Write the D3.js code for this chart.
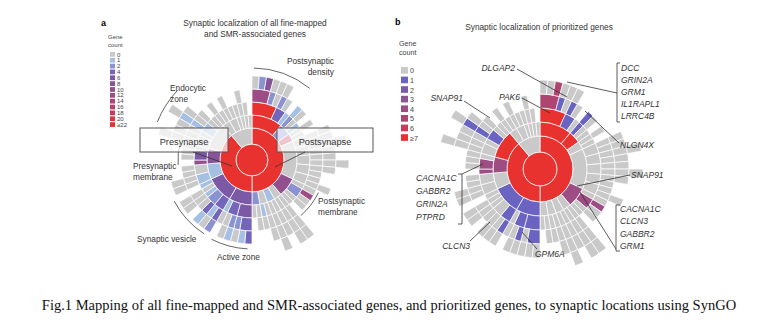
<!DOCTYPE html>
<html>
<head>
<meta charset="utf-8">
<script src="https://cdn.jsdelivr.net/npm/d3@7"></script>
<style>
  body { margin: 0; background: #fff; }
  svg { display: block; font-family: "Liberation Sans", Arial, sans-serif; }
</style>
</head>
<body>
<svg id="fig" width="771" height="332"></svg>
<script>
// every node: [gene count in panel a, gene count in panel b, ...child terms]
// a node without children is a leaf term (one slot of angle)
var postDensity = [22, 7,
  [22, 7, [12, 5, [0, 0], [2, 0], [8, 5]], [2, 1, [0, 0]], [0, 0, [0, 0]]],
  [4, 1, [2, 1, [0, 0]], [0, 0]],
  [1, 0]
];
var postSpec = [2, 7, [2, 1, [1, 1]], [0, 0, [0, 0]], [1, 0]];
var postPink = [18, 0, [0, 0, [0, 0]], [0, 0]];
var postRight = [0, 0,
  [0, 0, [0, 0, [0, 0]], [0, 0, [0, 0]]],
  [0, 0, [0, 0, [0, 0, [0, 0]]], [0, 0, [0, 0]]],
  [0, 0, [0, 0, [0, 0]], [0, 0, [0, 0, [0, 0]]]],
  [0, 0, [0, 0, [0, 0]], [0, 0]],
  [0, 0, [0, 0], [0, 0, [0, 0]]]
];
var postMembrane = [10, 4,
  [0, 0, [0, 0]],
  [2, 4, [12, 4], [0, 0]],
  [0, 0, [0, 0]],
  [0, 0]
];
var postLower1 = [0, 0, [0, 0, [0, 0, [0, 0, [0, 0]]]], [0, 0, [0, 0, [0, 0, [0, 0]]]]];
var postLower2 = [1, 0, [0, 0, [0, 0, [0, 0]]], [0, 0, [0, 0, [0, 0, [0, 0]]]]];
var postLower3 = [0, 0, [0, 0, [0, 0, [0, 0]]], [1, 0, [0, 0]]];
var postLower4 = [2, 0, [0, 0, [0, 0]], [0, 0]];

var preActive = [6, 1,
  [6, 1, [4, 1, [4, 0], [1, 0]], [2, 0, [0, 0]]],
  [4, 1, [2, 1, [1, 0]], [0, 0, [0, 0]]],
  [1, 0, [0, 0]]
];
var preVesicle = [6, 1,
  [4, 1, [4, 1, [2, 0]], [1, 0, [0, 0]]],
  [2, 0, [4, 0, [1, 0]], [0, 0]],
  [1, 0, [0, 0, [0, 0]]],
  [0, 0, [0, 0, [0, 0]]],
  [1, 0]
];
var preOther = [1, 0,
  [1, 0, [0, 0, [0, 0]], [0, 0, [0, 0]]],
  [0, 0, [0, 0], [0, 0]]
];
var preMembrane = [8, 4,
  [10, 4],
  [6, 4, [0, 0], [0, 0]],
  [0, 0, [0, 0]]
];
var preEndocytic = [0, 7,
  [0, 0, [0, 0, [0, 0, [0, 0]]], [0, 0, [0, 0]]],
  [0, 0, [0, 0, [0, 0]]],
  [1, 1, [1, 1, [1, 1, [0, 0]]], [0, 0, [0, 0]]],
  [0, 0, [0, 0]],
  [0, 0]
];
var otherTerms = [0, 0,
  [0, 0, [0, 0, [0, 0]], [0, 0]],
  [0, 0, [0, 0, [0, 0]], [0, 0]],
  [0, 0, [0, 0]],
  [0, 0, [0, 0, [0, 0]]],
  [0, 0, [0, 0]],
  [0, 0]
];

var postsynapse = [22, 7, postDensity, postSpec, postPink, postRight, postMembrane,
                   postLower1, postLower2, postLower3, postLower4];
var presynapse = [22, 7, preActive, preVesicle, preOther, preMembrane, preEndocytic];
var synapse = [22, 7, postsynapse, presynapse, otherTerms];

// colour legends
var stepsA = [1, 2, 4, 6, 8, 10, 12, 14, 16, 18, 20, 22];
var labelsA = ["0", "1", "2", "4", "6", "8", "10", "12", "14", "16", "18", "20", "\u226522"];
var coloursA = ["#c9c9c9", "#a5c0e2", "#8a92d0", "#7265ba", "#7b59a6", "#87549a", "#93508f",
                "#9d4c84", "#a8487a", "#b5436c", "#c43e5c", "#d5384a", "#e8322f"];
var stepsB = [1, 2, 3, 4, 5, 6, 7];
var labelsB = ["0", "1", "2", "3", "4", "5", "6", "\u22657"];
var coloursB = ["#c9c9c9", "#6a63c2", "#7b5aab", "#8c5396", "#9d4c84", "#ae4571", "#c63d57", "#e8322f"];

var captionText = "Fig.1 Mapping of all fine-mapped and SMR-associated genes, and prioritized genes, to synaptic locations using SynGO";

var svg = d3.select("#fig");

function ringEdges(core, ring1, step) {
  var e = [0, core, ring1];
  for (var i = 1; i <= 6; i++) e.push(ring1 + step * i);
  return e;
}

function drawSunburst(idx, cx, cy, edges, colour) {
  var root = d3.hierarchy(synapse, function(d) { return d.length > 2 ? d.slice(2) : null; })
               .sum(function(d) { return d.length > 2 ? 0 : 1; });
  d3.partition().size([2 * Math.PI, 1])(root);

  var arc = d3.arc()
    .startAngle(function(d) { return d.x0; })
    .endAngle(function(d) { return d.x1; })
    .innerRadius(function(d) { return edges[d.depth]; })
    .outerRadius(function(d) { return edges[d.depth + 1]; });

  var g = svg.append("g").attr("transform", "translate(" + cx + "," + cy + ")");
  g.selectAll("path")
    .data(root.descendants())
    .join("path")
      .attr("d", arc)
      .attr("fill", function(d) { return colour(d.data[idx]); })
      .attr("stroke", "#fff")
      .attr("stroke-width", 0.7);

  return { root: root, g: g, edges: edges };
}

function branchArc(sb, branch, gap, pad) {
  var node = sb.root.descendants().find(function(d) { return d.data === branch; });
  var deepest = d3.max(node.descendants(), function(d) { return d.depth; });
  var r = sb.edges[deepest + 1] + gap;
  var p = d3.path();
  p.arc(0, 0, r, node.x0 + pad - Math.PI / 2, node.x1 - pad - Math.PI / 2);
  sb.g.append("path")
    .attr("d", p.toString())
    .attr("fill", "none")
    .attr("stroke", "#555")
    .attr("stroke-width", 0.9);
}

function legend(x, y, labels, colours, size, gapY, fontSize) {
  var g = svg.append("g").attr("transform", "translate(" + x + "," + y + ")");
  g.append("text").attr("x", -2).attr("y", -gapY * 2.2).attr("font-size", fontSize).attr("fill", "#444").text("Gene");
  g.append("text").attr("x", -2).attr("y", -gapY * 2.2 + fontSize * 1.25).attr("font-size", fontSize).attr("fill", "#444").text("count");
  labels.forEach(function(l, i) {
    g.append("rect").attr("x", 0).attr("y", i * gapY).attr("width", size).attr("height", size * 0.95)
      .attr("fill", colours[i]);
    g.append("text").attr("x", size + 2).attr("y", i * gapY + size * 0.9)
      .attr("font-size", fontSize).attr("fill", "#444").text(l);
  });
}

function label(lines, x, y, lh, anchor, size, italic) {
  var t = svg.append("text").attr("font-size", size).attr("fill", "#333")
    .attr("text-anchor", anchor || "start");
  if (italic) t.attr("font-style", "italic");
  lines.forEach(function(s, i) {
    t.append("tspan").attr("x", x).attr("y", y + i * lh).text(s);
  });
}

function leader(pts) {
  svg.append("path").attr("d", d3.line()(pts)).attr("fill", "none")
    .attr("stroke", "#333").attr("stroke-width", 0.8);
}

// ---- panel a
var colourA = d3.scaleThreshold().domain(stepsA).range(coloursA);
var sbA = drawSunburst(0, 252, 160, ringEdges(16, 32, 13), colourA);

svg.append("text").attr("x", 101).attr("y", 26).attr("font-size", 9).attr("font-weight", "bold").text("a");
label(["Synaptic localization of all fine-mapped", "and SMR-associated genes"], 255, 26, 11, "middle", 8.3);
legend(110, 52, labelsA, coloursA, 5, 5.85, 6);

branchArc(sbA, postDensity, 8, 0.02);
branchArc(sbA, preEndocytic, 5, 0.12);
branchArc(sbA, preMembrane, 3, 0.02);
branchArc(sbA, postMembrane, 3, 0.02);
branchArc(sbA, preVesicle, 4, 0.05);
branchArc(sbA, preActive, 5, 0.05);

label(["Postsynaptic", "density"], 334, 64, 11, "end", 8.3);
label(["Endocytic", "zone"], 170, 91, 11, "start", 8.3);
label(["Presynaptic", "membrane"], 133, 169, 11, "start", 8.3);
label(["Postsynaptic", "membrane"], 318, 204, 11, "start", 8.3);
label(["Synaptic vesicle"], 137, 242, 11, "start", 8.3);
label(["Active zone"], 217, 260, 11, "start", 8.3);

// callout boxes
[[140, 88, "Presynapse", [[193, 152], [232, 166]]], [277, 96, "Postsynapse", [[305, 152], [275, 167]]]]
  .forEach(function(b) {
    svg.append("rect").attr("x", b[0]).attr("y", 128).attr("width", b[1]).attr("height", 24)
      .attr("fill", "#fff").attr("fill-opacity", 0.7).attr("stroke", "#555").attr("stroke-width", 1);
    label([b[2]], b[0] + b[1] / 2, 144.5, 0, "middle", 9.2);
    leader(b[3]);
  });

// ---- panel b
var colourB = d3.scaleThreshold().domain(stepsB).range(coloursB);
var sbB = drawSunburst(1, 540, 169, ringEdges(17, 33, 14), colourB);

svg.append("text").attr("x", 395).attr("y", 25).attr("font-size", 9).attr("font-weight", "bold").text("b");
label(["Synaptic localization of prioritized genes"], 539, 30, 0, "middle", 8.3);
legend(401, 67, labelsB, coloursB, 7, 9.6, 7.2);

label(["DLGAP2"], 515, 71, 0, "end", 8.5, true);
leader([[517, 69], [567, 97]]);
label(["PAK6"], 520, 100, 0, "end", 8.5, true);
leader([[522, 98], [550, 113]]);
label(["SNAP91"], 463, 101, 0, "end", 8.5, true);
leader([[464, 101], [490, 118]]);
label(["DCC", "GRIN2A", "GRM1", "IL1RAPL1", "LRRC4B"], 621, 71, 12, "start", 8.5, true);
leader([[620, 63], [617, 63], [617, 122], [620, 122]]);
leader([[617, 93], [567, 82]]);
label(["NLGN4X"], 620, 148, 0, "start", 8.5, true);
leader([[619, 143], [585, 111]]);
label(["SNAP91"], 631, 178, 0, "start", 8.5, true);
leader([[630, 175], [577, 186]]);
label(["CACNA1C", "GABBR2", "GRIN2A", "PTPRD"], 416, 181, 13, "start", 8.5, true);
leader([[458, 174], [462, 174], [462, 224], [458, 224]]);
leader([[462, 174], [483, 164]]);
label(["CLCN3"], 470, 249, 0, "end", 8.5, true);
leader([[470, 241], [490, 222]]);
label(["GPM6A"], 535, 257, 0, "start", 8.5, true);
leader([[537, 249], [522, 232]]);
label(["CACNA1C", "CLCN3", "GABBR2", "GRM1"], 620, 212, 12.3, "start", 8.5, true);
leader([[620, 205], [616, 205], [616, 251], [620, 251]]);
leader([[616, 249], [580, 192]]);

// ---- caption
svg.append("text").attr("x", 389).attr("y", 310).attr("text-anchor", "middle")
  .attr("font-family", "'Liberation Serif', 'Times New Roman', serif").attr("font-size", 14.5)
  .attr("fill", "#111").text(captionText);
</script>
</body>
</html>
